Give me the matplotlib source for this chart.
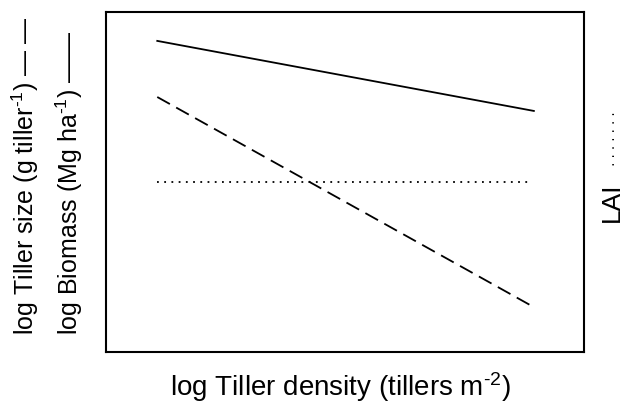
#!/usr/bin/env python3

import matplotlib
matplotlib.use('Agg')
import matplotlib.pyplot as plt

# schematic relationships against log tiller density
x = [0.107, 0.895]
biomass = [0.915, 0.709]      # solid
tiller_size = [0.75, 0.132]   # dashed
lai_x = [0.107, 0.885]
lai = [0.5, 0.5]              # dotted

plt.rcParams['font.family'] = ['Liberation Sans', 'DejaVu Sans']
plt.rcParams['mathtext.fontset'] = 'custom'
plt.rcParams['mathtext.rm'] = 'Liberation Sans'
plt.rcParams['mathtext.it'] = 'Liberation Sans'

fig = plt.figure(figsize=(6.28, 4.06), dpi=100)
ax = fig.add_axes([0.169, 0.1305, 0.761, 0.8375])

ax.plot(x, biomass, color='black', lw=1.3, linestyle='-')
ax.plot(x, tiller_size, color='black', lw=1.3, linestyle=(0, (8, 4)))
ax.plot(lai_x, lai, color='black', lw=1.3, linestyle=(0, (1, 3)))

ax.set_xlim(0, 1)
ax.set_ylim(0, 1)
ax.set_xticks([])
ax.set_yticks([])
for s in ax.spines.values():
	s.set_linewidth(1.5)

fig.text(0.542, 0.005, 'log Tiller density (tillers m$^{\u2010 2}$)', ha='center', va='bottom', fontsize=20)
fig.text(0.040, 0.175, 'log Tiller size (g tiller$^{\u20101}$) \u2014 \u2014', rotation=90, ha='center', va='bottom', fontsize=18)
fig.text(0.110, 0.175, 'log Biomass (Mg ha$^{\u20101}$) \u2014\u2014', rotation=90, ha='center', va='bottom', fontsize=18)
fig.text(0.975, 0.453, 'LAI', rotation=90, ha='center', va='bottom', fontsize=19)
fig.text(0.978, 0.59, '\u00b7 \u00b7 \u00b7 \u00b7 \u00b7 \u00b7 \u00b7', rotation=90, ha='center', va='bottom', fontsize=10)

fig.savefig('out.png', dpi=100)
